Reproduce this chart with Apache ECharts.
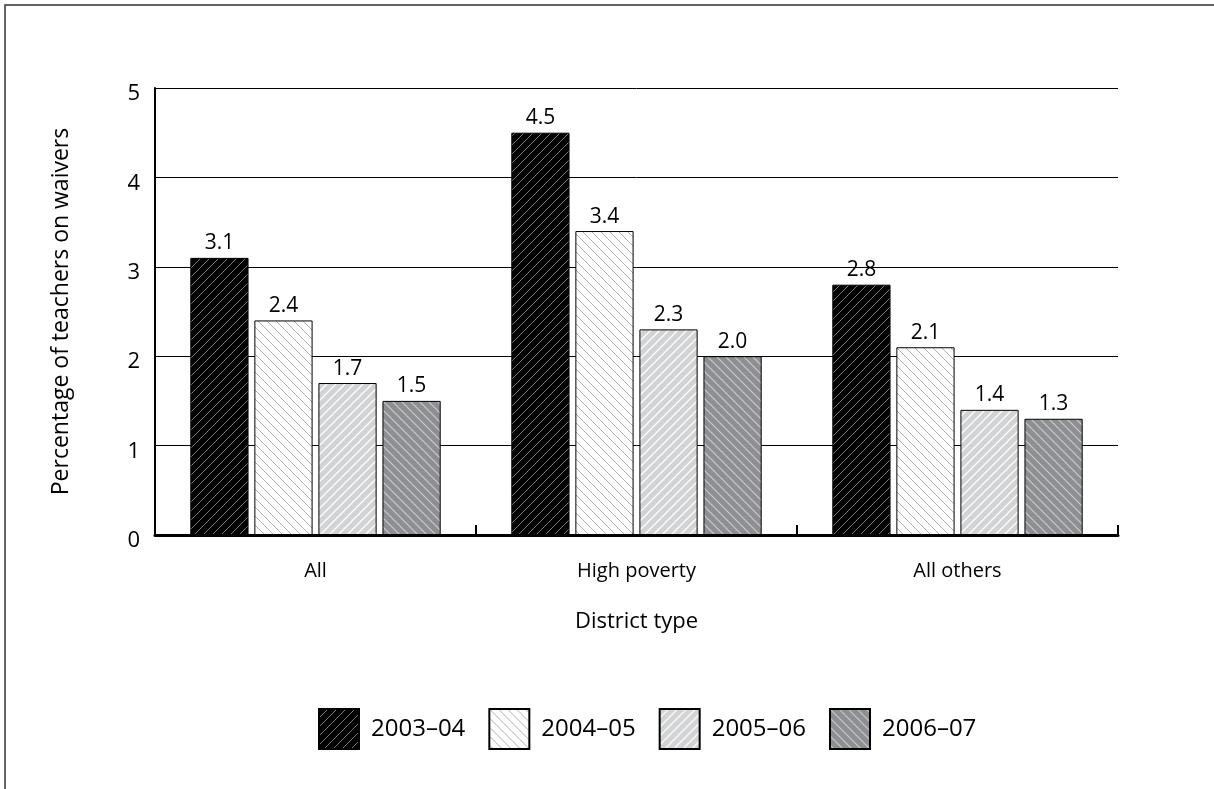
<!DOCTYPE html>
<html><head><meta charset="utf-8">
<script src="https://cdn.jsdelivr.net/npm/echarts@6/dist/echarts.min.js"></script>
<style>html,body{margin:0;padding:0;background:#fff}#c{width:1214px;height:789px}</style>
</head><body><div id="c"></div>
<script>
const categories = ['All', 'High poverty', 'All others'];
const seriesNames = ['2003–04', '2004–05', '2005–06', '2006–07'];
const v2003 = [3.1, 4.5, 2.8];
const v2004 = [2.4, 3.4, 2.1];
const v2005 = [1.7, 2.3, 1.4];
const v2006 = [1.5, 2.0, 1.3];
const yTicks = [0, 1, 2, 3, 4, 5];

function hatch(bg, fg, dir, lw) {
  const s = 9;
  const c = document.createElement('canvas');
  c.width = s; c.height = s;
  const g = c.getContext('2d');
  g.fillStyle = bg; g.fillRect(0, 0, s, s);
  g.strokeStyle = fg; g.lineWidth = lw;
  g.beginPath();
  if (dir === '/') {
    g.moveTo(-1, s + 1); g.lineTo(s + 1, -1);
    g.moveTo(-2, 2); g.lineTo(2, -2);
    g.moveTo(s - 2, s + 2); g.lineTo(s + 2, s - 2);
  } else {
    g.moveTo(-1, -1); g.lineTo(s + 1, s + 1);
    g.moveTo(-2, s - 2); g.lineTo(2, s + 2);
    g.moveTo(s - 2, -2); g.lineTo(s + 2, 2);
  }
  g.stroke();
  return { image: c, repeat: 'repeat' };
}

const fills = [
  hatch('#000000', '#7a7a7a', '/', 1),
  hatch('#ffffff', '#b0b0b0', '\\', 1),
  hatch('#d2d3d5', '#ffffff', '/', 1.3),
  hatch('#8e8f93', '#c9cacc', '\\', 1.2)
];
const values = [v2003, v2004, v2005, v2006];

const FONT = 'Open Sans';
const chart = echarts.init(document.getElementById('c'), null, { renderer: 'canvas' });
chart.setOption({
  animation: false,
  backgroundColor: '#fff',
  textStyle: { fontFamily: FONT },
  graphic: [{
    type: 'rect', shape: { x: 5, y: 5, width: 1300, height: 900 },
    style: { fill: 'none', stroke: '#333', lineWidth: 1.5 }, silent: true, z: 100
  }],
  grid: { left: 155, right: 96, top: 88, bottom: 254, containLabel: false },
  legend: {
    top: 703, left: 313, icon: 'rect',
    itemWidth: 40, itemHeight: 40, itemGap: 23,
    itemStyle: { borderColor: '#000', borderWidth: 2 },
    textStyle: { fontFamily: FONT, fontSize: 24, color: '#000', padding: [0, 0, 0, 7] },
    data: seriesNames
  },
  xAxis: {
    type: 'category', data: categories,
    name: 'District type', nameLocation: 'middle', nameGap: 76,
    nameTextStyle: { fontFamily: FONT, fontSize: 22, color: '#000' },
    axisLine: { lineStyle: { color: '#000', width: 3 } },
    axisTick: { show: true, inside: true, length: 10, lineStyle: { color: '#000', width: 2 } },
    axisLabel: { fontFamily: FONT, fontSize: 20, color: '#000', margin: 26 }
  },
  yAxis: {
    type: 'value', min: 0, max: 5, interval: 1,
    name: 'Percentage of teachers on waivers', nameLocation: 'middle', nameGap: 82, nameRotate: 90,
    nameTextStyle: { fontFamily: FONT, fontSize: 23, color: '#000' },
    axisLine: { show: true, lineStyle: { color: '#000', width: 2 } },
    axisTick: { show: false },
    axisLabel: { fontFamily: FONT, fontSize: 22, color: '#000', margin: 15,
      verticalAlign: 'top', lineHeight: 12,
      formatter: v => yTicks.includes(v) ? String(v) : '' },
    splitLine: { show: true, lineStyle: { color: '#000', width: 1 } }
  },
  series: seriesNames.map((n, i) => ({
    name: n, type: 'bar', data: values[i],
    barGap: '10%', barCategoryGap: '22%',
    itemStyle: { color: fills[i], borderColor: '#000', borderWidth: 1 },
    label: { show: true, position: 'top', distance: 4, fontFamily: FONT, fontSize: 21, color: '#000',
      formatter: p => p.value.toFixed(1) }
  }))
});
</script></body></html>
